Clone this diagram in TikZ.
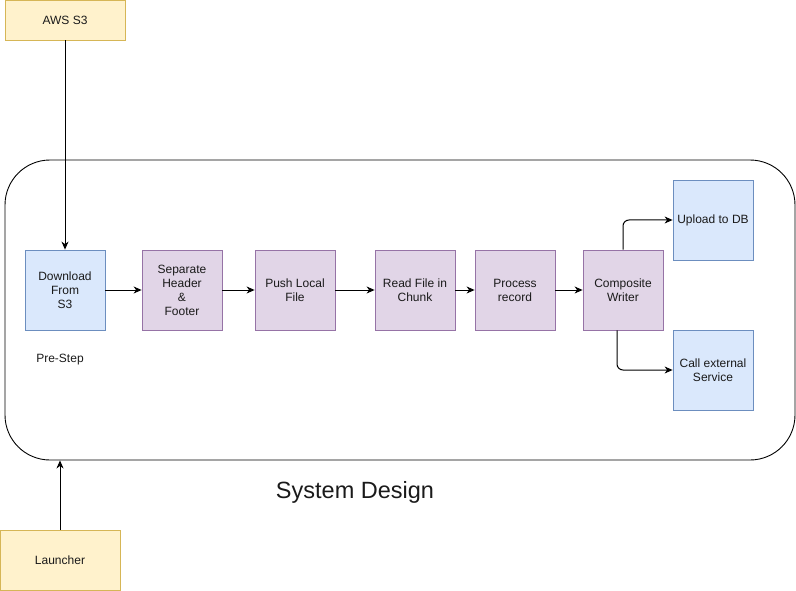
\documentclass[tikz,border=0pt]{standalone}
\usepackage{fontspec}
\setmainfont{Liberation Sans}
\usetikzlibrary{arrows.meta}

\definecolor{noteFill}{HTML}{FFF2CC}
\definecolor{noteLine}{HTML}{D6B656}
\definecolor{blueFill}{HTML}{DAE8FC}
\definecolor{blueLine}{HTML}{6C8EBF}
\definecolor{purpleFill}{HTML}{E1D5E7}
\definecolor{purpleLine}{HTML}{9673A6}
\definecolor{ink}{HTML}{1A1A1A}

\tikzset{
  box/.style={draw, line width=0.8pt, minimum width=80pt, minimum height=80pt,
    align=center, text=ink, inner sep=2pt,
    font=\fontsize{12}{14}\selectfont},
  sourcebox/.style={box, fill=noteFill, draw=noteLine, minimum width=120pt},
  prebox/.style={box, fill=blueFill, draw=blueLine},
  stepbox/.style={box, fill=purpleFill, draw=purpleLine},
  outbox/.style={box, fill=blueFill, draw=blueLine},
  flow/.style={draw=black, line width=1pt, -{Stealth[length=8pt,width=7pt,inset=2.5pt]}},
  label/.style={text=ink, font=\fontsize{12}{14}\selectfont}
}

\begin{document}
\begin{tikzpicture}[x=1pt, y=-1pt]
  \useasboundingbox (0,0) rectangle (796,591);

  % container of the batch job
  \node[draw=black, line width=0.9pt, rounded corners=45pt,
        minimum width=790pt, minimum height=300pt] (sys) at (400,310) {};

  % inputs
  \node[sourcebox, minimum height=40pt] (aws) at (65,20) {AWS S3};
  \node[sourcebox, minimum height=60pt] (launcher) at (60,560) {Launcher};

  % processing chain
  \node[prebox]  (dl)   at (65,290)  {Download\\From\\S3};
  \node[stepbox] (sep)  at (182,290) {Separate\\Header\\\&\\Footer};
  \node[stepbox] (push) at (295,290) {Push Local\\File};
  \node[stepbox] (read) at (415,290) {Read File in\\Chunk};
  \node[stepbox] (proc) at (515,290) {Process\\record};
  \node[stepbox] (cw)   at (623,290) {Composite\\Writer};

  % outputs
  \node[outbox] (db)   at (713,220) {Upload to DB};
  \node[outbox] (call) at (713,370) {Call external\\Service};

  % texts
  \node[label] (pre) at (60,360) {Pre-Step};
  \node[text=ink, font=\fontsize{23.5}{26}\selectfont] (title) at (355,492) {System Design};

  % connectors
  \draw[flow] (aws) -- (dl);
  \draw[flow] (launcher.north) -- (launcher.north |- sys.south);
  \draw[flow] (dl) -- (sep);
  \draw[flow] (sep) -- (push);
  \draw[flow] (push) -- (read);
  \draw[flow] (read) -- (proc);
  \draw[flow] (proc) -- (cw);
  \draw[flow, rounded corners=6pt] (cw.north) |- (db.west);
  \draw[flow, rounded corners=6pt] ([xshift=-6pt]cw.south) |- (call.west);
\end{tikzpicture}
\end{document}
